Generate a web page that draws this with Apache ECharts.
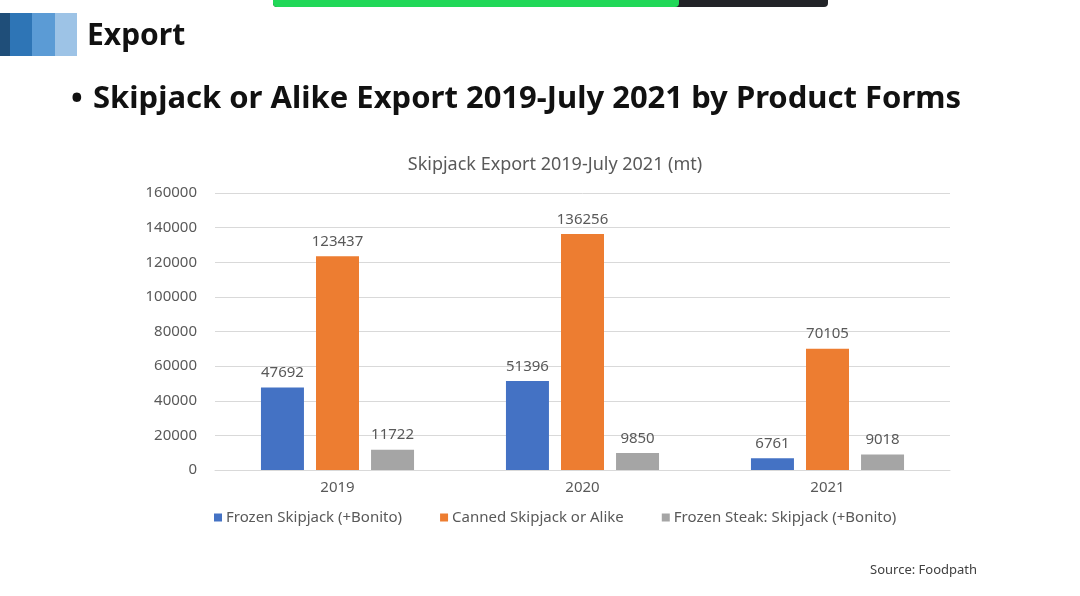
<!DOCTYPE html>
<html><head><meta charset="utf-8">
<script src="https://cdn.jsdelivr.net/npm/echarts@6/dist/echarts.min.js"></script>
<style>html,body{margin:0;padding:0;background:#fff}#c{width:1080px;height:596px}</style>
</head><body><div id="c"></div>
<script>
const categories = ['2019', '2020', '2021'];
const frozen = [47692, 51396, 6761];
const canned = [123437, 136256, 70105];
const steak = [11722, 9850, 9018];
const seriesNames = ['Frozen Skipjack (+Bonito)', 'Canned Skipjack or Alike', 'Frozen Steak: Skipjack (+Bonito)'];
const yTicks = { min: 0, max: 160000, interval: 20000 };

const FONT = '"Noto Sans", "Open Sans", sans-serif';
const chart = echarts.init(document.getElementById('c'));
const lbl = { show: true, position: 'top', distance: 7, color: '#595959', fontSize: 15, fontFamily: FONT };
chart.setOption({
  backgroundColor: '#fff',
  animation: false,
  title: {
    text: 'Skipjack Export 2019-July 2021 (mt)',
    left: 550, top: 151, textAlign: 'center',
    textStyle: { color: '#595959', fontSize: 18, fontWeight: 'normal', fontFamily: FONT }
  },
  legend: {
    data: seriesNames,
    left: 209, top: 505,
    itemWidth: 8, itemHeight: 8, itemGap: 38,
    icon: 'rect',
    textStyle: { color: '#595959', fontSize: 15, fontFamily: FONT, padding: [0, 0, 0, -1] }
  },
  grid: { left: 215, right: 130, top: 193, bottom: 126 },
  xAxis: {
    type: 'category', data: categories,
    axisLine: { lineStyle: { color: '#d9d9d9' } },
    axisTick: { show: false },
    axisLabel: { color: '#595959', fontSize: 15, fontFamily: FONT, margin: 10 }
  },
  yAxis: {
    type: 'value', min: yTicks.min, max: yTicks.max, interval: yTicks.interval,
    axisLine: { show: false }, axisTick: { show: false },
    splitLine: { lineStyle: { color: '#d9d9d9' } },
    axisLabel: { color: '#595959', fontSize: 15, fontFamily: FONT, margin: 18, formatter: v => String(v) }
  },
  series: [
    { name: seriesNames[0], type: 'bar', data: frozen, barWidth: 43, barGap: '28%', itemStyle: { color: '#4472C4' }, label: lbl },
    { name: seriesNames[1], type: 'bar', data: canned, barWidth: 43, barGap: '28%', itemStyle: { color: '#ED7D31' }, label: lbl },
    { name: seriesNames[2], type: 'bar', data: steak, barWidth: 43, barGap: '28%', itemStyle: { color: '#A5A5A5' }, label: lbl }
  ],
  graphic: [
    { type: 'rect', shape: { x: 273, y: -6, width: 555, height: 13, r: 4 }, style: { fill: '#222428' } },
    { type: 'rect', shape: { x: 273, y: -6, width: 406, height: 13, r: 4 }, style: { fill: '#21D858' } },
    { type: 'rect', shape: { x: 0, y: 13, width: 10, height: 43 }, style: { fill: '#1F4E79' } },
    { type: 'rect', shape: { x: 10, y: 13, width: 22, height: 43 }, style: { fill: '#2E75B6' } },
    { type: 'rect', shape: { x: 32, y: 13, width: 23, height: 43 }, style: { fill: '#5B9BD5' } },
    { type: 'rect', shape: { x: 55, y: 13, width: 22, height: 43 }, style: { fill: '#9DC3E6' } },
    { type: 'text', left: 87, top: 21, style: { text: 'Export', fill: '#111', font: 'bold 30px ' + FONT } },
    { type: 'text', left: 71, top: 84, style: { text: '•', fill: '#111', font: 'bold 31px ' + FONT } },
    { type: 'text', left: 93, top: 84, style: { text: 'Skipjack or Alike Export 2019-July 2021 by Product Forms', fill: '#111', font: 'bold 31px ' + FONT } },
    { type: 'text', left: 870, top: 564, style: { text: 'Source: Foodpath', fill: '#404040', font: '13px ' + FONT } }
  ]
});
</script></body></html>
